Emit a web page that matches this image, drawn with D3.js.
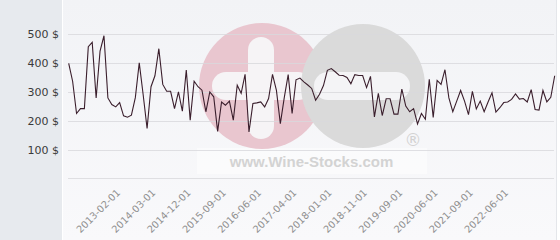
<!DOCTYPE html>
<html>
<head>
<meta charset="utf-8">
<script src="https://cdn.jsdelivr.net/npm/d3@7"></script>
<style>
  html, body { margin: 0; padding: 0; background: #fff; }
  svg { display: block; }
</style>
</head>
<body>
<svg id="chart" width="560" height="240"></svg>
<script>
// ---- data ----
const values = [
  399, 337, 225, 242, 242, 457, 472, 279, 442, 495,
  279, 256, 248, 263, 217, 212, 219, 280, 401, 290,
  173, 318, 356, 450, 326, 302, 302, 242, 300, 233,
  376, 202, 337, 318, 306, 231, 300, 283, 163, 265,
  254, 268, 202, 323, 295, 361, 161, 260, 262, 265,
  248, 277, 361, 305, 190, 280, 360, 225, 342, 348,
  335, 324, 312, 271, 292, 322, 375, 381, 370, 358,
  357, 350, 328, 360, 357, 357, 315, 354, 213, 295,
  218, 276, 276, 223, 223, 310, 251, 231, 242, 189,
  225, 205, 344, 211, 340, 326, 377, 279, 231, 268,
  305, 268, 221, 302, 241, 268, 231, 265, 297, 230,
  245, 263, 265, 274, 293, 275, 277, 265, 308, 239,
  237, 305, 265, 281, 356
];
const categories = d3.range(values.length);
const tickLabels = ["2013-02-01","2014-03-01","2014-12-01","2015-09-01","2016-06-01",
  "2017-04-01","2018-01-01","2018-11-01","2019-09-01","2020-06-01","2021-09-01","2022-06-01"];
const tickStart = 13, tickStep = 9;
const tickIndex = tickLabels.map((_, i) => tickStart + i * tickStep);
const yTicks = [100, 200, 300, 400, 500];
const gridValues = [0, 100, 200, 300, 400, 500];

// ---- drawing ----
const svg = d3.select("#chart");
const W = 560, H = 240;

const defs = svg.append("defs");
const grad = defs.append("linearGradient").attr("id", "bg").attr("x1", 0).attr("y1", 0).attr("x2", 0).attr("y2", 1);
grad.append("stop").attr("offset", "0%").attr("stop-color", "#f2f3f6");
grad.append("stop").attr("offset", "100%").attr("stop-color", "#f9f9fb");

// left panel and plot background
svg.append("rect").attr("x", 0).attr("y", 0).attr("width", W).attr("height", H).attr("fill", "#fff");
svg.append("rect").attr("x", 0).attr("y", 0).attr("width", 62).attr("height", H).attr("fill", "#e7eaee");
svg.append("rect").attr("x", 63).attr("y", 0).attr("width", 493).attr("height", H).attr("fill", "url(#bg)");
svg.append("line").attr("x1", 556.5).attr("x2", 556.5).attr("y1", 0).attr("y2", H).attr("stroke", "#e4e6ea");

const x = d3.scalePoint().domain(categories).range([68.7, 554.7]);
const y = d3.scaleLinear().domain([0, 500]).range([178.3, 34.3]);

// watermark
const wm = svg.append("g");
wm.append("rect").attr("x", 197).attr("y", 148).attr("width", 230).attr("height", 26).attr("fill", "#ffffff").attr("opacity", 0.45);
wm.append("circle").attr("cx", 262).attr("cy", 86).attr("r", 63).attr("fill", "#e9c6cf");
wm.append("rect").attr("x", 248).attr("y", 37).attr("width", 26).attr("height", 102).attr("rx", 13).attr("fill", "#f6f4f6");
wm.append("rect").attr("x", 212).attr("y", 72).attr("width", 100).attr("height", 28).attr("rx", 14).attr("fill", "#f6f4f6");
wm.append("circle").attr("cx", 363).attr("cy", 86).attr("r", 62).attr("fill", "#dadada");
wm.append("rect").attr("x", 314).attr("y", 72).attr("width", 96).attr("height", 28).attr("rx", 14).attr("fill", "#f4f4f6");
wm.append("text").attr("x", 413).attr("y", 146).attr("text-anchor", "middle")
  .attr("font-family", "DejaVu Sans, sans-serif").attr("font-size", 17).attr("fill", "#d2d2d2").text("®");
wm.append("text").attr("x", 311.5).attr("y", 167).attr("text-anchor", "middle")
  .attr("font-family", "Liberation Sans, Arial, sans-serif").attr("font-weight", "bold")
  .attr("font-size", 15).attr("fill", "#d3d3d3").text("www.Wine-Stocks.com");

// gridlines
svg.append("g").selectAll("line").data(gridValues).join("line")
  .attr("x1", 68).attr("x2", 554)
  .attr("y1", d => Math.round(y(d)) + 0.5).attr("y2", d => Math.round(y(d)) + 0.5)
  .attr("stroke", "#d8d8dc").attr("stroke-opacity", 0.8).attr("stroke-width", 1);

// y axis
const yAxis = svg.append("g").attr("transform", "translate(59,0)")
  .call(d3.axisLeft(y).tickValues(yTicks).tickSize(0).tickPadding(0).tickFormat(d => d + " $"));
yAxis.select(".domain").remove();
yAxis.selectAll("text").attr("font-family", "DejaVu Sans, sans-serif").attr("font-size", 11)
  .attr("fill", "#3a3a3a").attr("dy", "0.32em");

// x axis
const xAxis = svg.append("g").attr("transform", "translate(0,194)")
  .call(d3.axisBottom(x).tickValues(tickIndex).tickSize(0).tickPadding(0)
    .tickFormat(d => tickLabels[(d - tickStart) / tickStep]));
xAxis.select(".domain").remove();
xAxis.selectAll("text")
  .attr("font-family", "DejaVu Sans, sans-serif").attr("font-size", 9.8).attr("fill", "#909090")
  .attr("text-anchor", "end").attr("x", 1).attr("y", 0).attr("dy", "0")
  .attr("transform", "rotate(-45)");

// line
svg.append("path").datum(values)
  .attr("fill", "none").attr("stroke", "#3a1e2c").attr("stroke-width", 1.1).attr("stroke-linejoin", "miter")
  .attr("d", d3.line().x((d, i) => x(i)).y(d => y(d)));
</script>
</body>
</html>
